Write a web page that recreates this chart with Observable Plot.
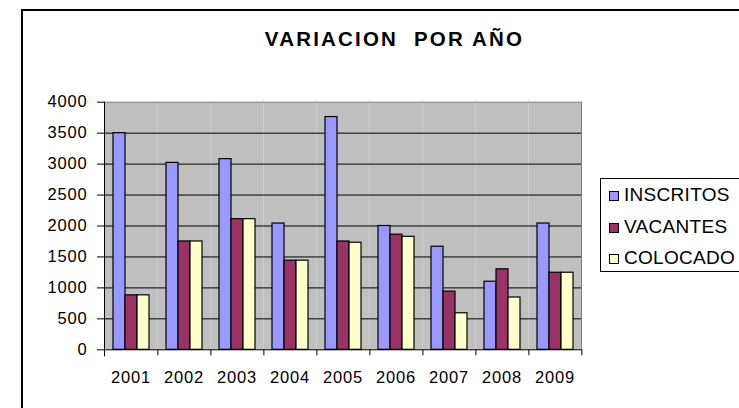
<!DOCTYPE html>
<html><head><meta charset="utf-8">
<script src="https://cdn.jsdelivr.net/npm/d3@7"></script>
<script src="https://cdn.jsdelivr.net/npm/@observablehq/plot@0.6"></script>
<style>
html,body{margin:0;padding:0;background:#fff;width:739px;height:408px;overflow:hidden;font-family:"Liberation Sans",Arial,sans-serif;color:#000;}
#wrap{position:relative;width:739px;height:408px;overflow:hidden;}
#box{position:absolute;left:21px;top:9px;width:800px;height:500px;border-left:2px solid #000;border-top:2px solid #000;box-sizing:border-box;}
#title{position:absolute;left:25px;width:739px;top:27px;text-align:center;font-weight:bold;font-size:20.5px;letter-spacing:2.2px;white-space:pre;line-height:24px;}
#chart{position:absolute;left:0;top:70px;}
#legend{position:absolute;left:600px;top:178px;width:200px;height:94px;border:1px solid #000;box-sizing:border-box;background:#fff;}
.row{height:31.7px;display:flex;align-items:center;font-size:19px;letter-spacing:0.3px;}
.sw{width:10px;height:10px;box-sizing:border-box;border:1px solid #000;margin-left:8px;margin-right:5px;margin-top:2px;}
</style>
</head><body>
<div id="wrap">
  <div id="box"></div>
  <div id="title"></div>
  <div id="chart"></div>
  <div id="legend"></div>
</div>
<script>
const title = "VARIACION  POR AÑO";
const years = ["2001","2002","2003","2004","2005","2006","2007","2008","2009"];
const series = ["INSCRITOS","VACANTES","COLOCADO"];
const inscritos = [3500, 3020, 3080, 2040, 3760, 2000, 1665, 1100, 2040];
const vacantes  = [880, 1750, 2110, 1440, 1750, 1860, 940, 1300, 1245];
const colocado  = [880, 1750, 2110, 1440, 1730, 1825, 590, 845, 1245];
const yTicks = [0, 500, 1000, 1500, 2000, 2500, 3000, 3500, 4000];
const colors = ["#9999FF", "#993366", "#FFFFCC"];

const values = [inscritos, vacantes, colocado];
const data = years.flatMap((yr, i) => series.map((s, j) => ({year: yr, serie: s, value: values[j][i]})));

document.getElementById("title").textContent = title;

const W = 739, H = 338, ML = 100, MR = 155, MT = 31.7, MB = 58.7;
const halfBand = (W - ML - MR) / years.length / 2;

const chart = Plot.plot({
  width: W, height: H,
  marginLeft: ML, marginRight: MR, marginTop: MT, marginBottom: MB,
  style: {fontFamily: '"Liberation Sans", Arial, sans-serif', fontSize: "16.5px", letterSpacing: "0.8px", color: "#000", background: "transparent"},
  fx: {domain: years, padding: 0, axis: null, label: null},
  x: {domain: series, paddingInner: 0, paddingOuter: 0.59, axis: null},
  y: {domain: [0, 4000], axis: null},
  color: {domain: series, range: colors},
  marks: [
    Plot.frame({fill: "#c0c0c0", stroke: "none"}),
    Plot.ruleY(yTicks.filter(d => d > 0 && d < 4000), {stroke: "#000", strokeWidth: 1}),
    Plot.frame({anchor: "top", stroke: "#808080"}),
    Plot.frame({anchor: "right", facetAnchor: "right", stroke: "#808080"}),
    Plot.barY(data, {fx: "year", x: "serie", y: "value", fill: "serie", stroke: "#000", strokeWidth: 1.2}),
    Plot.ruleY([0], {stroke: "#000"}),
    Plot.frame({anchor: "left", facetAnchor: "left", stroke: "#000", insetBottom: -6}),
    Plot.axisY({ticks: yTicks, tickSize: 7, tickPadding: 10, tickFormat: d => String(d), label: null, stroke: "#000"}),
    Plot.axisFx({anchor: "bottom", tickSize: 0, tickPadding: 21, label: null}),
    Plot.axisFx({anchor: "bottom", text: null, tickSize: 6, dx: halfBand, label: null, stroke: "#000"})
  ]
});
document.getElementById("chart").appendChild(chart);

const leg = document.getElementById("legend");
series.forEach((s, i) => {
  const row = document.createElement("div");
  row.className = "row";
  const sw = document.createElement("div");
  sw.className = "sw";
  sw.style.background = colors[i];
  const t = document.createElement("span");
  t.textContent = s;
  row.appendChild(sw); row.appendChild(t);
  leg.appendChild(row);
});
</script>
</body></html>
